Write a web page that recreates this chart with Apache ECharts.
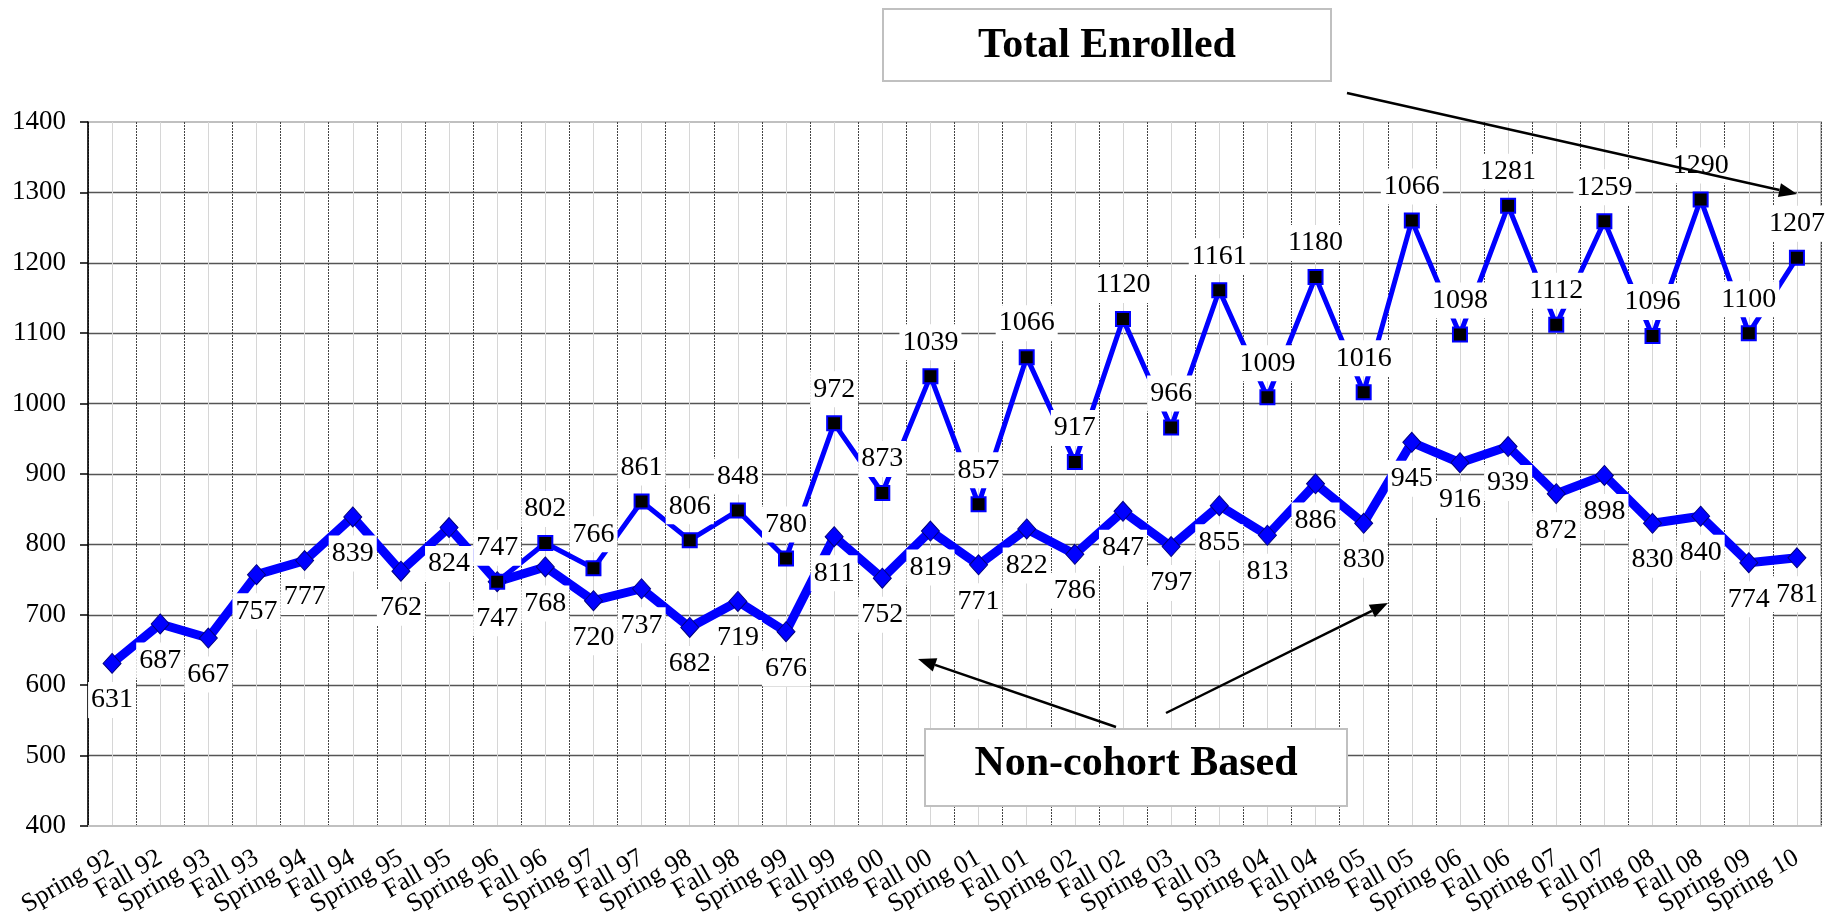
<!DOCTYPE html>
<html>
<head>
<meta charset="utf-8">
<title>Total Enrolled / Non-cohort Based</title>
<script src="https://cdn.jsdelivr.net/npm/echarts@6/dist/echarts.min.js"></script>
<style>
  html, body { margin: 0; padding: 0; background: #fff; }
  #chart { width: 1842px; height: 919px; }
</style>
</head>
<body>
<div id="chart"></div>
<script>
// terms on the x axis
const categories = [
  'Spring 92', 'Fall 92', 'Spring 93', 'Fall 93', 'Spring 94', 'Fall 94',
  'Spring 95', 'Fall 95', 'Spring 96', 'Fall 96', 'Spring 97', 'Fall 97',
  'Spring 98', 'Fall 98', 'Spring 99', 'Fall 99', 'Spring 00', 'Fall 00',
  'Spring 01', 'Fall 01', 'Spring 02', 'Fall 02', 'Spring 03', 'Fall 03',
  'Spring 04', 'Fall 04', 'Spring 05', 'Fall 05', 'Spring 06', 'Fall 06',
  'Spring 07', 'Fall 07', 'Spring 08', 'Fall 08', 'Spring 09', 'Spring 10'
];

const nonCohort = [
  631, 687, 667, 757, 777, 839, 762, 824, 747, 768, 720, 737,
  682, 719, 676, 811, 752, 819, 771, 822, 786, 847, 797, 855,
  813, 886, 830, 945, 916, 939, 872, 898, 830, 840, 774, 781
];

// total enrolled only starts in Spring 96
const totalEnrolled = [
  null, null, null, null, null, null, null, null, 747, 802, 766, 861,
  806, 848, 780, 972, 873, 1039, 857, 1066, 917, 1120, 966, 1161,
  1009, 1180, 1016, 1260, 1098, 1281, 1112, 1259, 1096, 1290, 1100, 1207
];

// the original chart prints a different number on this point
const totalLabelOverrides = { 'Fall 05': '1066' };

const yMin = 400;
const yMax = 1400;
const yStep = 100;

const serif = 'Liberation Serif, Times New Roman, serif';

const labelBox = {
  show: true,
  color: '#000',
  fontFamily: serif,
  fontSize: 28,
  lineHeight: 30,
  backgroundColor: '#fff',
  padding: [3, 3]
};

function arrow(x1, y1, x2, y2) {
  const ang = Math.atan2(y2 - y1, x2 - x1);
  const len = 18, half = 7;
  const bx = x2 - len * Math.cos(ang), by = y2 - len * Math.sin(ang);
  const nx = -Math.sin(ang) * half, ny = Math.cos(ang) * half;
  return [
    {
      type: 'line', z: 100, silent: true,
      shape: { x1: x1, y1: y1, x2: bx, y2: by },
      style: { stroke: '#000', lineWidth: 2.5 }
    },
    {
      type: 'polygon', z: 100, silent: true,
      shape: { points: [[x2, y2], [bx + nx, by + ny], [bx - nx, by - ny]] },
      style: { fill: '#000' }
    }
  ];
}

let myChart = echarts.init(document.getElementById('chart'));

let option = {
  animation: false,
  backgroundColor: '#fff',
  grid: {
    left: 88, right: 21, top: 122, bottom: 93,
    show: true,
    borderColor: '#c0c0c0',
    borderWidth: 2,
    containLabel: false,
    outerBoundsMode: 'none'
  },
  xAxis: [
    {
      type: 'category',
      data: categories,
      boundaryGap: true,
      axisLine: { lineStyle: { color: '#c0c0c0', width: 2 } },
      axisTick: { show: false },
      axisLabel: {
        interval: 0,
        rotate: 30,
        margin: 30,
        color: '#000',
        fontFamily: serif,
        fontSize: 26
      },
      splitLine: {
        show: true,
        lineStyle: { color: '#444', width: 1, type: [2, 1] }
      }
    },
    {
      // helper axis, only to draw the light lines through each category centre
      type: 'value',
      position: 'bottom',
      min: 0,
      max: categories.length * 2,
      interval: 1,
      axisLine: { show: false },
      axisTick: { show: false },
      axisLabel: { show: false },
      splitLine: {
        show: true,
        lineStyle: { color: ['rgba(0,0,0,0)', '#d6d6d6'], width: 1 }
      }
    }
  ],
  yAxis: {
    type: 'value',
    min: yMin,
    max: yMax,
    interval: yStep,
    axisLine: { show: true, lineStyle: { color: '#000', width: 1.5 } },
    axisTick: { show: true, length: 8, lineStyle: { color: '#000', width: 1.5 } },
    axisLabel: {
      margin: 22, color: '#000', fontFamily: serif, fontSize: 27,
      formatter: function (v) { return String(v); }
    },
    splitLine: {
      show: true,
      showMinLine: false,
      showMaxLine: false,
      lineStyle: { color: '#555', width: 1.3 }
    }
  },
  series: [
    {
      name: 'Non-cohort Based',
      type: 'line',
      data: nonCohort,
      z: 2,
      showAllSymbol: true,
      symbol: 'diamond',
      symbolSize: [18, 20],
      lineStyle: { color: '#0000ff', width: 9 },
      itemStyle: { color: '#0000ff', borderColor: '#000080', borderWidth: 1 },
      label: Object.assign({}, labelBox, { position: 'bottom', distance: 8 }),
      emphasis: { disabled: true }
    },
    {
      name: 'Total Enrolled',
      type: 'line',
      data: totalEnrolled,
      z: 3,
      showAllSymbol: true,
      symbol: 'rect',
      symbolSize: 14,
      lineStyle: { color: '#0000ff', width: 5 },
      itemStyle: { color: '#000', borderColor: '#0000ff', borderWidth: 2 },
      label: Object.assign({}, labelBox, {
        position: 'top',
        distance: 8,
        formatter: function (p) {
          return totalLabelOverrides[p.name] || String(p.value);
        }
      }),
      emphasis: { disabled: true }
    }
  ],
  graphic: [
    {
      type: 'rect', z: 90, silent: true,
      shape: { x: 883, y: 9, width: 448, height: 72 },
      style: { fill: '#fff', stroke: '#c0c0c0', lineWidth: 2 }
    },
    {
      type: 'text', z: 91, silent: true,
      x: 1107, y: 46,
      style: {
        text: 'Total Enrolled', fill: '#000',
        font: 'bold 42px ' + serif, align: 'center', verticalAlign: 'middle'
      }
    },
    {
      type: 'rect', z: 90, silent: true,
      shape: { x: 925, y: 729, width: 422, height: 77 },
      style: { fill: '#fff', stroke: '#c0c0c0', lineWidth: 2 }
    },
    {
      type: 'text', z: 91, silent: true,
      x: 1136, y: 764,
      style: {
        text: 'Non-cohort Based', fill: '#000',
        font: 'bold 42px ' + serif, align: 'center', verticalAlign: 'middle'
      }
    }
  ].concat(
    arrow(1347, 93, 1797, 194),
    arrow(1116, 727, 918, 659),
    arrow(1166, 713, 1388, 603)
  )
};

myChart.setOption(option);
</script>
</body>
</html>
